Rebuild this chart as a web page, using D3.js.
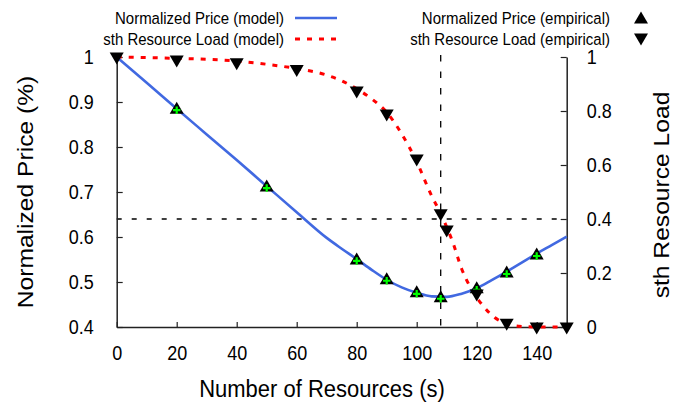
<!DOCTYPE html>
<html>
<head>
<meta charset="utf-8">
<script src="https://cdn.jsdelivr.net/npm/d3@7"></script>
<style>
  html, body { margin: 0; padding: 0; background: #fff; }
  svg { display: block; font-family: "Liberation Sans", Arial, Helvetica, sans-serif; }
</style>
</head>
<body>
<svg id="chart" width="675" height="405"></svg>
<script>
// ---- data ----
const modelX      = [0, 10, 20, 30, 40, 50, 60, 70, 75, 80, 85, 90, 95, 100, 105, 110, 115, 120, 125, 130, 135, 140, 145, 150];
const modelPrice  = [1.0, 0.943, 0.885, 0.828, 0.771, 0.713, 0.655, 0.598, 0.574, 0.551, 0.527, 0.505, 0.488, 0.476, 0.468, 0.467, 0.474, 0.486, 0.504, 0.523, 0.543, 0.563, 0.582, 0.601];

const loadModelX  = [0, 20, 40, 50, 60, 70, 75, 80, 85, 90, 95, 100, 105, 108, 110, 112, 115, 118, 122, 126, 130, 134, 140, 150];
const loadModel   = [1.0, 0.995, 0.985, 0.973, 0.957, 0.933, 0.912, 0.882, 0.845, 0.795, 0.715, 0.612, 0.485, 0.42, 0.37, 0.315, 0.215, 0.145, 0.08, 0.035, 0.012, 0.003, 0.0, 0.0];

const priceEmpX   = [20, 50, 80, 90, 100, 108, 120, 130, 140];
const priceEmp    = [0.884, 0.711, 0.549, 0.505, 0.476, 0.465, 0.485, 0.520, 0.560];

const loadEmpX    = [0, 20, 40, 60, 80, 90, 100, 108, 110, 120, 130, 140, 150];
const loadEmp     = [1.0, 0.989, 0.979, 0.954, 0.874, 0.789, 0.622, 0.419, 0.359, 0.122, 0.014, 0.0, 0.0];

const xTicks      = [0, 20, 40, 60, 80, 100, 120, 140];
const yLeftTicks  = [0.4, 0.5, 0.6, 0.7, 0.8, 0.9, 1];
const yRightTicks = [0, 0.2, 0.4, 0.6, 0.8, 1];

const refX = 108;        // vertical reference line (Number of Resources)
const refLoad = 0.4;     // horizontal reference line (right axis value)

const legendModel = ["Normalized Price (model)", "sth Resource Load (model)"];
const legendEmp   = ["Normalized Price (empirical)", "sth Resource Load (empirical)"];

// ---- layout ----
const svg = d3.select("#chart");
const L = 116.7, R = 566.7, T = 57, B = 327;
const SY = 1.12; // glyphs in the reference are slightly taller than wide

const x  = d3.scaleLinear().domain([0, 150]).range([L, R]);
const yL = d3.scaleLinear().domain([0.4, 1]).range([B, T]);
const yR = d3.scaleLinear().domain([0, 1]).range([B, T]);

const fmt = d3.format("~g");

// reference lines
svg.append("line")
  .attr("x1", x(refX)).attr("x2", x(refX))
  .attr("y1", yR(1) - 2).attr("y2", B)
  .attr("stroke", "#000").attr("stroke-width", 1.3)
  .attr("stroke-dasharray", "6.5,10");
svg.append("line")
  .attr("x1", L).attr("x2", R)
  .attr("y1", yR(refLoad)).attr("y2", yR(refLoad))
  .attr("stroke", "#000").attr("stroke-width", 1.3)
  .attr("stroke-dasharray", "5,10");

// axes
const axisStyle = g => {
  g.selectAll("path.domain").attr("stroke", "#222").attr("stroke-width", 1.5);
  g.selectAll(".tick line").attr("stroke", "#222").attr("stroke-width", 1.2);
  g.selectAll(".tick text").attr("fill", "#000").attr("font-size", 18)
    .attr("font-family", "Liberation Sans, Arial, sans-serif")
    .attr("transform", `scale(1,${SY})`);
};

svg.append("g")
  .attr("transform", `translate(0,${B})`)
  .call(d3.axisBottom(x).tickValues(xTicks).tickFormat(fmt)
        .tickSizeInner(-5).tickSizeOuter(0).tickPadding(16.5))
  .call(axisStyle);

svg.append("g")
  .attr("transform", `translate(${L},0)`)
  .call(d3.axisLeft(yL).tickValues(yLeftTicks).tickFormat(fmt)
        .tickSizeInner(-6).tickSizeOuter(0).tickPadding(23))
  .call(axisStyle);

svg.append("g")
  .attr("transform", `translate(${R},0)`)
  .call(d3.axisRight(yR).tickValues(yRightTicks).tickFormat(fmt)
        .tickSizeInner(-6).tickSizeOuter(0).tickPadding(20))
  .call(axisStyle);

// model lines
const priceLine = d3.line().x(d => x(d[0])).y(d => yL(d[1])).curve(d3.curveMonotoneX);
const loadLine  = d3.line().x(d => x(d[0])).y(d => yR(d[1])).curve(d3.curveMonotoneX);

svg.append("path")
  .datum(modelX.map((v, i) => [v, modelPrice[i]]))
  .attr("d", priceLine)
  .attr("fill", "none").attr("stroke", "#4169e1").attr("stroke-width", 2.6);

svg.append("path")
  .datum(loadModelX.map((v, i) => [v, loadModel[i]]))
  .attr("d", loadLine)
  .attr("fill", "none").attr("stroke", "#ff0000").attr("stroke-width", 3)
  .attr("stroke-dasharray", "5,7");

// markers
const upTri   = "M0,-7.5L7,4.5L-7,4.5Z";
const downTri = "M-7,-4.5L7,-4.5L0,7.5Z";

const pe = svg.append("g");
priceEmpX.forEach((v, i) => {
  const g = pe.append("g").attr("transform", `translate(${x(v)},${yL(priceEmp[i])})`);
  g.append("path").attr("d", upTri).attr("fill", "#000");
  g.append("path").attr("d", "M-3.7,1H3.7M0,-2.7V4.7")
    .attr("stroke", "#00ff00").attr("stroke-width", 2.2).attr("fill", "none");
});

const le = svg.append("g");
loadEmpX.forEach((v, i) => {
  le.append("path")
    .attr("transform", `translate(${x(v)},${yR(loadEmp[i])})`)
    .attr("d", downTri).attr("fill", "#000");
});

// text helper: horizontal text stretched vertically about its baseline point
function htext(px, py, str, size, anchor) {
  return svg.append("text")
    .attr("transform", `translate(${px},${py}) scale(1,${SY})`)
    .attr("text-anchor", anchor).attr("font-size", size)
    .text(str);
}

// axis titles
htext(322, 397, "Number of Resources (s)", 22, "middle");

svg.append("text")
  .attr("transform", `translate(33,${(T + B) / 2}) scale(1,${SY}) rotate(-90)`)
  .attr("text-anchor", "middle").attr("font-size", 22)
  .text("Normalized Price (%)");

svg.append("text")
  .attr("transform", `translate(669,${(T + B) / 2 + 3}) scale(1,${SY}) rotate(-90)`)
  .attr("text-anchor", "middle").attr("font-size", 22)
  .text("sth Resource Load");

// legend
htext(284, 23.5, legendModel[0], 15, "end");
htext(284, 44.5, legendModel[1], 15, "end");
svg.append("line").attr("x1", 295).attr("x2", 337).attr("y1", 18).attr("y2", 18)
  .attr("stroke", "#4169e1").attr("stroke-width", 2.6);
svg.append("line").attr("x1", 295).attr("x2", 337).attr("y1", 39).attr("y2", 39)
  .attr("stroke", "#ff0000").attr("stroke-width", 3).attr("stroke-dasharray", "5,7");

htext(610, 23.5, legendEmp[0], 15, "end");
htext(610, 44.5, legendEmp[1], 15, "end");
svg.append("path").attr("transform", "translate(641,19)").attr("d", upTri).attr("fill", "#000");
svg.append("path").attr("transform", "translate(641,38)").attr("d", downTri).attr("fill", "#000");
</script>
</body>
</html>
